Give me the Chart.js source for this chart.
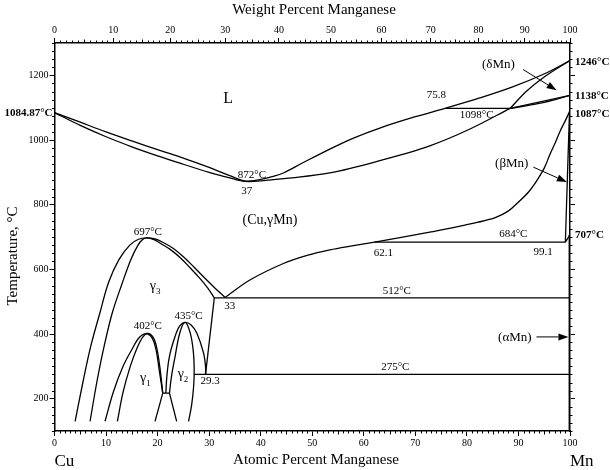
<!DOCTYPE html>
<html>
<head>
<meta charset="utf-8">
<script src="https://cdn.jsdelivr.net/npm/chart.js@4.4.0/dist/chart.umd.min.js"></script>
<style>
html, body { margin: 0; padding: 0; background: #fff; }
#wrap { width: 610px; height: 470px; }
</style>
</head>
<body>
<div id="wrap"><canvas id="myChart"></canvas></div>
<script>
// Cu-Mn, x = atomic % Mn, y = temperature (C)
var liquidus = [[0,1084.87],[5,1055],[10,1025],[15,997],[20,970],[25,944],[30,915],[34,890],[37,873],[40,878],[42,886],[44.4,898],[48,928],[53.4,972],[58,1006],[63.1,1037],[70,1072],[75.8,1098],[82.5,1130],[89,1165],[95.5,1208],[100,1246]];
var solidus = [[0,1084.87],[5,1045],[10,1010],[15,979],[20,951],[25,925],[30,900],[34,883],[37,872],[41,875],[45,881],[53.4,898],[63.1,936],[72.8,982],[80.6,1034],[88.4,1098]];
var deltaBoundary = [[100,1246],[95,1195],[91.5,1150],[88.4,1098]];
var gammaDeltaA = [[88.4,1098],[100,1138]];
var gammaDeltaB = [[88.4,1098],[94,1113],[100,1138]];
var peritectic = [[75.8,1098],[88.4,1098]];
var gammaBoundary = [[33.1,513],[37.9,567],[44.4,618],[49,643],[53.4,660],[58,673],[62.1,684],[67,698],[72.8,715],[78,731],[82,745],[85.5,760],[88,780],[90,808],[92,840],[93.5,873],[95,913],[96.1,955],[97.2,994],[98.1,1028],[99.1,1060],[99.9,1087]];
var betaLine = [[99.1,684],[99.9,1087]];
var alphaLine = [[99.1,684],[100,707]];
var alphaSolvus = [[99.85,707],[99.85,100]];
var line684 = [[62.1,684],[99.1,684]];
var line512 = [[31.0,512],[100,512]];
var line275 = [[27.1,275],[100,275]];
var line31to29 = [[31.0,512],[29.3,275]];
var gamma3Outer = [[4.0,130],[5.5,250],[7.0,360],[8.8,465],[10.5,560],[12.5,630],[14.6,675],[16.3,693],[17.9,697],[19.5,694],[21.1,683],[23,665],[25.0,639],[27,608],[28.9,577],[31,544],[33.1,513]];
var gamma3Inner = [[6.9,130],[8.2,250],[9.6,360],[11.2,465],[13.2,560],[14.8,630],[16.2,675],[17.1,692],[17.9,697],[19.3,692],[20.6,680],[22.5,661],[24.4,636],[26.3,605],[28.2,572],[29.7,543],[31.0,512]];
var gamma1Outer = [[9.8,130],[11.4,220],[13.3,300],[15.0,352],[16.5,390],[18.1,402],[19.2,388],[19.9,352],[20.5,290],[21.0,217]];
var gamma1Inner = [[12.2,130],[13.3,220],[14.7,300],[16.1,360],[17.2,392],[18.1,400],[19.0,386],[19.7,352],[20.3,290],[21.0,217]];
var gamma2Outer = [[21.6,217],[21.8,270],[22.3,331],[23.4,393],[24.3,425],[25.3,436],[26.5,428],[27.6,403],[28.9,342],[29.3,300],[29.3,275]];
var gamma2Inner = [[22.3,217],[22.7,270],[23.4,331],[24.3,403],[25.3,436],[26.3,405],[26.9,350],[27.1,290],[27.0,240],[26.6,180],[26.0,130]];
var tie217 = [[21.0,217],[22.3,217]];
var tieLeft = [[21.0,217],[19.5,130]];
var tieRight = [[22.3,217],[23.7,130]];

// axis ticks
var atTicks = [0,10,20,30,40,50,60,70,80,90,100];
var wtTicks = [0,10,20,30,40,50,60,70,80,90,100];
var tempTicks = [200,400,600,800,1000,1200];

// labels (text, atomic %, temperature)
var phaseLabels = [
  ['L', 33.7, 1126, 16],
  ['872°C', 38.3, 890, 11],
  ['37', 37.3, 842, 11],
  ['(Cu,γMn)', 41.8, 752, 14],
  ['697°C', 18.1, 716, 11],
  ['402°C', 18.1, 423, 11],
  ['435°C', 26.0, 454, 11],
  ['29.3', 30.2, 254, 11],
  ['33', 34.0, 487, 11],
  ['512°C', 66.4, 534, 11],
  ['275°C', 66.1, 297, 11],
  ['62.1', 63.8, 651, 11],
  ['99.1', 94.8, 652, 11],
  ['684°C', 89.0, 708, 11],
  ['75.8', 74.1, 1139, 11],
  ['1098°C', 81.9, 1078, 11],
  ['(δMn)', 86.1, 1234, 13],
  ['(βMn)', 88.7, 926, 13],
  ['(αMn)', 89.3, 388, 13]
];
var gammaLabels = [['3', 19.5, 547], ['1', 17.6, 262], ['2', 24.9, 275]];
var arrows = [[90.9,1218,97.4,1154],[92.9,916,99.4,870],[93.5,391,99.7,391]];
var rightLabels = [['1246°C', 1240], ['1138°C', 1136], ['1087°C', 1079], ['707°C', 705]];
var leftLabels = [['1084.87°C', 1082]];

var serif = 'Liberation Serif';

function atFromWt(w) {
    var a = w / 54.938, b = (100 - w) / 63.546;
    return 100 * a / (a + b);
}

function toPts(arr) {
    return arr.map(function (p) { return { x: p[0], y: p[1] }; });
}

function lineSet(arr, curved) {
    return {
        data: toPts(arr),
        showLine: true,
        pointRadius: 0,
        borderColor: '#000',
        borderWidth: 1.3,
        tension: curved ? 0.35 : 0,
        fill: false
    };
}

var datasets = [
    lineSet(liquidus, true), lineSet(solidus, true), lineSet(deltaBoundary, true),
    lineSet(gammaDeltaA, false), lineSet(gammaDeltaB, true), lineSet(peritectic, false),
    lineSet(gammaBoundary, true), lineSet(betaLine, false), lineSet(alphaLine, false),
    lineSet(alphaSolvus, false), lineSet(line684, false), lineSet(line512, false),
    lineSet(line275, false), lineSet(line31to29, false),
    lineSet(gamma3Outer, true), lineSet(gamma3Inner, true),
    lineSet(gamma1Outer, true), lineSet(gamma1Inner, true),
    lineSet(gamma2Outer, true), lineSet(gamma2Inner, true),
    lineSet(tie217, false), lineSet(tieLeft, false), lineSet(tieRight, false)
];

// minor ticks, text and arrows
var annotate = {
    id: 'annotate',
    afterDraw: function (chart) {
        var ctx = chart.ctx;
        var x = chart.scales.x, x2 = chart.scales.x2, y = chart.scales.y;
        var area = chart.chartArea;
        ctx.save();
        ctx.strokeStyle = '#000';
        ctx.lineWidth = 1;
        ctx.beginPath();
        var i, px, py, len;
        for (i = 0; i <= 100; i++) {
            px = Math.round(x.getPixelForValue(i)) + 0.5;
            len = i % 10 === 0 ? 0 : (i % 5 === 0 ? 3.5 : 2.5);
            if (len) { ctx.moveTo(px, area.bottom); ctx.lineTo(px, area.bottom + len); }
            px = Math.round(x2.getPixelForValue(atFromWt(i))) + 0.5;
            len = i % 10 === 0 ? 0 : (i % 5 === 0 ? 3.5 : 2.5);
            if (len) { ctx.moveTo(px, area.top); ctx.lineTo(px, area.top - len); }
        }
        for (i = 100; i <= 1300; i += 25) {
            if (i % 200 === 0) continue;
            py = Math.round(y.getPixelForValue(i)) + 0.5;
            ctx.moveTo(area.left, py); ctx.lineTo(area.left - 2.5, py);
            ctx.moveTo(area.right, py); ctx.lineTo(area.right + 2.5, py);
        }
        ctx.stroke();

        ctx.fillStyle = '#000';
        ctx.textAlign = 'center';
        ctx.textBaseline = 'middle';
        phaseLabels.forEach(function (l) {
            ctx.font = l[3] + 'px "' + serif + '"';
            ctx.fillText(l[0], x.getPixelForValue(l[1]), y.getPixelForValue(l[2]));
        });
        gammaLabels.forEach(function (l) {
            var cx = x.getPixelForValue(l[1]), cy = y.getPixelForValue(l[2]);
            ctx.font = '14px "' + serif + '"';
            ctx.textAlign = 'right';
            ctx.fillText('γ', cx + 1, cy);
            ctx.font = '9px "' + serif + '"';
            ctx.textAlign = 'left';
            ctx.fillText(l[0], cx + 1, cy + 5);
        });

        arrows.forEach(function (a) {
            var x1 = x.getPixelForValue(a[0]), y1 = y.getPixelForValue(a[1]);
            var xe = x.getPixelForValue(a[2]), ye = y.getPixelForValue(a[3]);
            var ang = Math.atan2(ye - y1, xe - x1);
            var hl = 10, hw = 3.5;
            var bx = xe - hl * Math.cos(ang), by = ye - hl * Math.sin(ang);
            ctx.beginPath();
            ctx.lineWidth = 1;
            ctx.moveTo(x1, y1); ctx.lineTo(bx, by);
            ctx.stroke();
            ctx.beginPath();
            ctx.moveTo(xe, ye);
            ctx.lineTo(bx + hw * Math.sin(ang), by - hw * Math.cos(ang));
            ctx.lineTo(bx - hw * Math.sin(ang), by + hw * Math.cos(ang));
            ctx.closePath();
            ctx.fill();
        });

        ctx.font = 'bold 11px "' + serif + '"';
        ctx.textAlign = 'left';
        rightLabels.forEach(function (l) {
            ctx.fillText(l[0], area.right + 5, y.getPixelForValue(l[1]));
        });
        ctx.textAlign = 'right';
        leftLabels.forEach(function (l) {
            ctx.fillText(l[0], area.left - 2, y.getPixelForValue(l[1]));
        });

        // titles
        ctx.font = '15px "' + serif + '"';
        ctx.textAlign = 'center';
        ctx.fillText('Weight Percent Manganese', 314, 10);
        ctx.fillText('Atomic Percent Manganese', 316, 460);
        ctx.font = '17px "' + serif + '"';
        ctx.textAlign = 'left';
        ctx.fillText('Cu', area.left, 462);
        ctx.fillText('Mn', area.right, 462);
        ctx.save();
        ctx.translate(13, 256);
        ctx.rotate(-Math.PI / 2);
        ctx.font = '15px "' + serif + '"';
        ctx.textAlign = 'center';
        ctx.fillText('Temperature, °C', 0, 0);
        ctx.restore();
        ctx.restore();
    }
};

var tickFont = { family: serif, size: 10 };
function axisGrid() {
    return { drawOnChartArea: false, drawTicks: true, tickLength: 5, color: '#000' };
}
var border = { display: true, color: '#000', width: 1.5 };

var config = {
    type: 'scatter',
    data: { datasets: datasets },
    options: {
        responsive: true,
        maintainAspectRatio: false,
        animation: false,
        layout: { padding: 0 },
        plugins: { legend: { display: false }, tooltip: { enabled: false } },
        scales: {
            x: {
                type: 'linear', position: 'bottom', min: 0, max: 100,
                afterBuildTicks: function (s) { s.ticks = atTicks.map(function (v) { return { value: v }; }); },
                afterFit: function (s) { s.height = 39; },
                grid: axisGrid(), border: border,
                ticks: {
                    font: tickFont, color: '#000', padding: 1, maxRotation: 0, autoSkip: false,
                    callback: function (v) { return String(v); }
                }
            },
            x2: {
                type: 'linear', position: 'top', min: 0, max: 100,
                afterBuildTicks: function (s) { s.ticks = wtTicks.map(function (w) { return { value: atFromWt(w) }; }); },
                afterFit: function (s) { s.height = 43; },
                grid: axisGrid(), border: border,
                ticks: {
                    font: tickFont, color: '#000', padding: 2, maxRotation: 0, autoSkip: false,
                    callback: function (v, i) { return String(wtTicks[i]); }
                }
            },
            y: {
                type: 'linear', position: 'left', min: 100, max: 1300,
                afterBuildTicks: function (s) { s.ticks = tempTicks.map(function (v) { return { value: v }; }); },
                afterFit: function (s) { s.width = 54.5; },
                grid: axisGrid(), border: border,
                ticks: {
                    font: tickFont, color: '#000', padding: 1, autoSkip: false,
                    callback: function (v) { return String(v); }
                }
            },
            y2: {
                type: 'linear', position: 'right', min: 100, max: 1300,
                afterBuildTicks: function (s) { s.ticks = tempTicks.map(function (v) { return { value: v }; }); },
                afterFit: function (s) { s.width = 40; },
                grid: axisGrid(), border: border,
                ticks: { display: false }
            }
        }
    },
    plugins: [annotate]
};

var myChart = new Chart(document.getElementById('myChart'), config);
</script>
</body>
</html>
